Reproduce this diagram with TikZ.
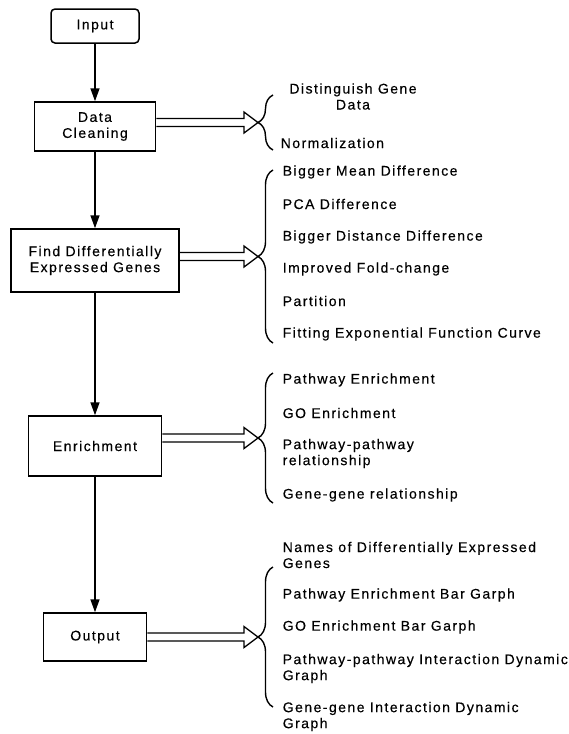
\documentclass[tikz,border=0pt]{standalone}
\usepackage{fontspec}
\setmainfont{Liberation Sans}[LetterSpace=10.5,FakeBold=0.35]
\usetikzlibrary{arrows.meta,decorations.pathreplacing,calc}
\newcommand\hollowarrow[2]{%
  \draw[bigarrow] ($(#1)+(0,-4)$) -- ($(#2)+(-14,-4)$) -- ($(#2)+(-14,-10.5)$) -- (#2)
     -- ($(#2)+(-14,10.5)$) -- ($(#2)+(-14,4)$) -- ($(#1)+(0,4)$);}
\begin{document}
\begin{tikzpicture}[x=1pt,y=-1pt,line width=1.5pt,
  font=\fontsize{14}{16}\selectfont,
  box/.style={draw,line width=1.5pt,inner sep=0pt,align=center},
  item/.style={anchor=west,inner sep=0pt,align=left},
  flow/.style={-{Triangle[length=13pt,width=9pt]},line width=1.5pt},
  bracestyle/.style={decorate,decoration={brace,amplitude=15pt},line width=1.4pt},
  bigarrow/.style={line width=1.3pt,line join=miter}]
\useasboundingbox (0,0) rectangle (569,734);

% boxes
\node[box,rounded corners=4pt,minimum width=88pt,minimum height=34pt] (input) at (95,26) {Input};
\node[box,minimum width=121pt,minimum height=49pt] (dc) at (95,126.5) {Data\\Cleaning};
\node[box,minimum width=168pt,minimum height=63pt] (deg) at (95,260.5) {Find Differentially\\Expressed Genes};
\node[box,minimum width=133pt,minimum height=60pt] (enr) at (95,446) {Enrichment};
\node[box,minimum width=103pt,minimum height=48pt] (out) at (95,637) {Output};

% vertical flow
\draw[flow] (input) -- (input |- dc.north);
\draw[flow] (dc) -- (dc |- deg.north);
\draw[flow] (deg) -- (deg |- enr.north);
\draw[flow] (enr) -- (enr |- out.north);

% brace tips
\coordinate (t1) at (258,122.5);
\coordinate (t2) at (258,256.5);
\coordinate (t3) at (258,438);
\coordinate (t4) at (258,637);
\coordinate (s1) at (dc.east |- t1);
\coordinate (s2) at (deg.east |- t2);
\coordinate (s3) at (enr.east |- t3);
\coordinate (s4) at (out.east |- t4);

% braces
\draw[bracestyle] (273,150) -- (273,95);
\draw[bracestyle] (273,343) -- (273,170);
\draw[bracestyle] (273,503) -- (273,373);
\draw[bracestyle] (273,707) -- (273,567);

% hollow arrows
\hollowarrow{s1}{t1}
\hollowarrow{s2}{t2}
\hollowarrow{s3}{t3}
\hollowarrow{s4}{t4}

% items
\node[inner sep=0pt,align=center] (a1) at (353,96.5) {Distinguish Gene\\Data};
\node[item] (a2) at (280,143) {Normalization};

\node[item] (b1) at (282,172) {Bigger Mean Difference};
\node[item] (b2) at (282,204) {PCA Difference};
\node[item] (b3) at (282,237) {Bigger Distance Difference};
\node[item] (b4) at (282,269) {Improved Fold-change};
\node[item] (b5) at (282,301) {Partition};
\node[item] (b6) at (282,334) {Fitting Exponential Function Curve};

\node[item] (c1) at (282,380) {Pathway Enrichment};
\node[item] (c2) at (282,413) {GO Enrichment};
\node[item] (c3) at (282,453.5) {Pathway-pathway\\relationship};
\node[item] (c4) at (282,495) {Gene-gene relationship};

\node[item] (d1) at (282,555) {Names of Differentially Expressed\\Genes};
\node[item] (d2) at (282,595) {Pathway Enrichment Bar Garph};
\node[item] (d3) at (282,627) {GO Enrichment Bar Garph};
\node[item] (d4) at (282,668.5) {Pathway-pathway Interaction Dynamic\\Graph};
\node[item] (d5) at (282,716.5) {Gene-gene Interaction Dynamic\\Graph};
\end{tikzpicture}
\end{document}
